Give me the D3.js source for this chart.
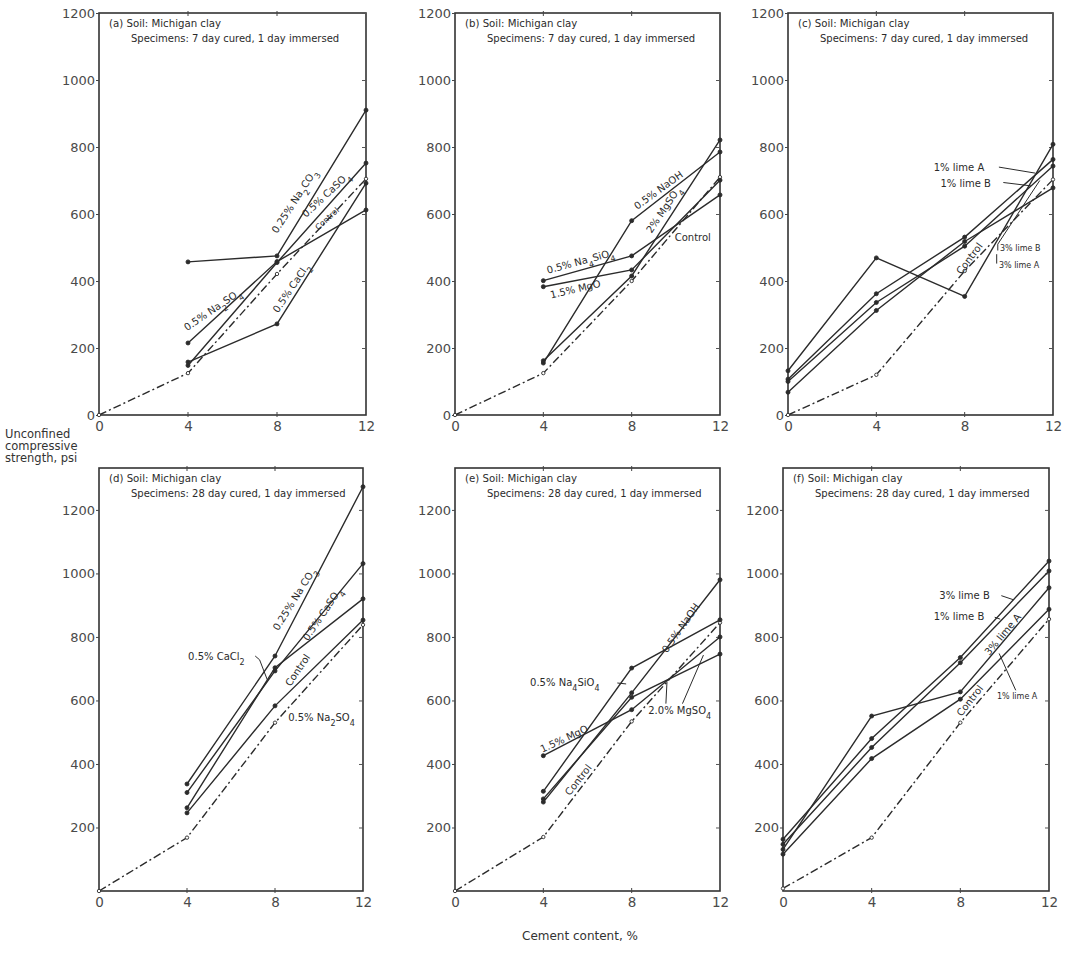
<!DOCTYPE html>
<html>
<head>
<meta charset="utf-8">
<script src="https://cdn.jsdelivr.net/npm/d3@7"></script>
<style>
body { margin: 0; background: #fff; }
svg { display: block; font-family: "DejaVu Sans", sans-serif; }
</style>
</head>
<body>
<svg id="chart" width="1066" height="974"></svg>
<script>
// cement content, %
const cement = [0, 4, 8, 12];
const yTicksTop = [0, 200, 400, 600, 800, 1000, 1200];
const yTicksBottom = [200, 400, 600, 800, 1000, 1200];

// (a) 7 day cured - sodium / calcium salts
const aControl = [0, 125, 421, 705];
const aNa2CO3 = [null, 457, 475, 910];
const aCaSO4 = [null, 148, 455, 752];
const aCaCl2 = [null, 158, 272, 692];
const aNa2SO4 = [null, 215, 458, 612];

// (b) 7 day cured - NaOH, MgSO4, Na4SiO4, MgO
const bControl = [0, 125, 400, 710];
const bNaOH = [null, 155, 580, 785];
const bMgSO4 = [null, 162, 415, 821];
const bNa4SiO4 = [null, 401, 475, 657];
const bMgO = [null, 383, 433, 701];

// (c) 7 day cured - lime
const cControl = [0, 120, 430, 703];
const c1LimeA = [107, 362, 531, 763];
const c1LimeB = [100, 336, 504, 743];
const c3LimeB = [68, 312, 518, 678];
const c3LimeA = [132, 469, 354, 808];

// (d) 28 day cured - sodium / calcium salts
const dControl = [0, 168, 530, 838];
const dNa2CO3 = [null, 337, 740, 1273];
const dCaSO4 = [null, 310, 693, 1031];
const dCaCl2 = [null, 262, 703, 920];
const dNa2SO4 = [null, 246, 583, 853];

// (e) 28 day cured - NaOH, MgSO4, Na4SiO4, MgO
const eControl = [0, 170, 534, 845];
const eNaOH = [null, 280, 624, 980];
const eNa4SiO4 = [null, 314, 702, 854];
const eMgO = [null, 426, 571, 800];
const eMgSO4 = [null, 290, 610, 746];

// (f) 28 day cured - lime
const fControl = [8, 168, 530, 856];
const f3LimeB = [163, 480, 735, 1039];
const f1LimeB = [147, 452, 719, 1008];
const f3LimeA = [131, 551, 627, 955];
const f1LimeA = [116, 417, 604, 887];

const sub7 = "Specimens: 7 day cured, 1 day immersed";
const sub28 = "Specimens: 28 day cured, 1 day immersed";

// where each panel box sits on the page
const rowGeom = [
  { top: 13, bottom: 415, ymax: 1200, ticks: yTicksTop },
  { top: 468, bottom: 891, ymax: 1332, ticks: yTicksBottom }
];
const colGeom = [
  [[99, 366], [455, 720], [788, 1053]],
  [[99, 363], [455, 720], [783, 1049]]
];

const panels = [
  { row: 0, col: 0, tag: "(a)", sub: sub7,
    series: [aControl, aNa2CO3, aCaSO4, aCaCl2, aNa2SO4],
    labels: [
      { t: "0.25% Na_2CO_3", x: 8.0, y: 540, a: -57 },
      { t: "0.5% CaSO_4", x: 9.3, y: 588, a: -43 },
      { t: "Control", x: 9.85, y: 551, a: -42, fs: 8 },
      { t: "0.5% Na_2SO_4", x: 3.95, y: 250, a: -34 },
      { t: "0.5% CaCl_2", x: 8.05, y: 303, a: -56 }
    ], leaders: [] },
  { row: 0, col: 1, tag: "(b)", sub: sub7,
    series: [bControl, bNaOH, bMgSO4, bNa4SiO4, bMgO],
    labels: [
      { t: "0.5% NaOH", x: 8.25, y: 612, a: -36 },
      { t: "2% MgSO_4", x: 8.9, y: 541, a: -56 },
      { t: "Control", x: 9.95, y: 519, a: 0 },
      { t: "0.5% Na_4SiO_4", x: 4.2, y: 422, a: -15 },
      { t: "1.5% MgO", x: 4.35, y: 348, a: -13 }
    ], leaders: [] },
  { row: 0, col: 2, tag: "(c)", sub: sub7,
    series: [cControl, c1LimeA, c1LimeB, c3LimeB, c3LimeA],
    labels: [
      { t: "1% lime A", x: 6.6, y: 728, a: 0 },
      { t: "1% lime B", x: 6.9, y: 682, a: 0 },
      { t: "3% lime B", x: 9.6, y: 491, a: 0, fs: 8 },
      { t: "3% lime A", x: 9.55, y: 438, a: 0, fs: 8 },
      { t: "Control", x: 7.85, y: 418, a: -53 }
    ],
    leaders: [
      [[9.55, 740], [11.2, 722]],
      [[9.75, 694], [11.0, 684]],
      [[9.5, 491], [9.5, 510], [11.4, 700]],
      [[9.45, 452], [9.45, 480]]
    ] },
  { row: 1, col: 0, tag: "(d)", sub: sub28,
    series: [dControl, dNa2CO3, dCaSO4, dCaCl2, dNa2SO4],
    labels: [
      { t: "0.25% Na CO_3", x: 8.15, y: 818, a: -58 },
      { t: "0.5% CaSO_4", x: 9.5, y: 786, a: -56 },
      { t: "0.5% CaCl_2", x: 4.05, y: 727, a: 0 },
      { t: "Control", x: 8.7, y: 642, a: -56 },
      { t: "0.5% Na_2SO_4", x: 8.6, y: 536, a: 0 }
    ],
    leaders: [
      [[7.1, 740], [7.3, 728], [7.65, 665]]
    ] },
  { row: 1, col: 1, tag: "(e)", sub: sub28,
    series: [eControl, eNaOH, eNa4SiO4, eMgO, eMgSO4],
    labels: [
      { t: "0.5% NaOH", x: 9.6, y: 748, a: -55 },
      { t: "0.5% Na_4SiO_4", x: 3.4, y: 646, a: 0 },
      { t: "2.0% MgSO_4", x: 8.75, y: 558, a: 0 },
      { t: "1.5% MgO", x: 3.95, y: 435, a: -25 },
      { t: "Control", x: 5.2, y: 298, a: -52 }
    ],
    leaders: [
      [[7.35, 655], [7.75, 652]],
      [[10.3, 590], [11.25, 743]],
      [[9.55, 590], [9.6, 660]]
    ] },
  { row: 1, col: 2, tag: "(f)", sub: sub28,
    series: [fControl, f3LimeB, f1LimeB, f3LimeA, f1LimeA],
    labels: [
      { t: "3% lime B", x: 7.05, y: 920, a: 0 },
      { t: "1% lime B", x: 6.8, y: 852, a: 0 },
      { t: "3% lime A", x: 9.3, y: 740, a: -50 },
      { t: "1% lime A", x: 9.65, y: 606, a: 0, fs: 8 },
      { t: "Control", x: 8.05, y: 548, a: -52 }
    ],
    leaders: [
      [[9.85, 930], [10.4, 917]],
      [[9.55, 862], [9.8, 856]],
      [[10.5, 632], [9.75, 748]]
    ] }
];

const svg = d3.select("#chart");
const ink = "#2b2b2b";

// label text with _n subscripts
function writeLabel(sel, str, fs) {
  const parts = str.split(/(_\d)/);
  parts.forEach(p => {
    if (!p) return;
    if (p[0] === "_") {
      sel.append("tspan").attr("baseline-shift", "sub").attr("font-size", fs * 0.8).text(p.slice(1));
    } else {
      sel.append("tspan").text(p);
    }
  });
}

panels.forEach(p => {
  const rg = rowGeom[p.row];
  const [x0, x1] = colGeom[p.row][p.col];
  const x = d3.scaleLinear().domain([0, 12]).range([x0, x1]);
  const y = d3.scaleLinear().domain([0, rg.ymax]).range([rg.bottom, rg.top]);
  const g = svg.append("g");

  // box
  g.append("rect")
    .attr("x", x0).attr("y", rg.top)
    .attr("width", x1 - x0).attr("height", rg.bottom - rg.top)
    .attr("fill", "none").attr("stroke", "#333").attr("stroke-width", 1.6);

  // left axis
  const left = d3.axisLeft(y).tickValues(rg.ticks).tickSize(3).tickPadding(0).tickFormat(d3.format("d"));
  const la = g.append("g").attr("transform", `translate(${x0},0)`).call(left);
  la.select(".domain").remove();
  la.selectAll("line").attr("stroke", "#444");
  la.selectAll("text").attr("font-size", 13).attr("fill", "#4a4a4a")
    .attr("font-family", "DejaVu Sans, sans-serif").attr("dx", -1);

  // right inner ticks
  const right = d3.axisLeft(y).tickValues(yTicksBottom).tickSize(4).tickFormat("");
  const ra = g.append("g").attr("transform", `translate(${x1},0)`).call(right);
  ra.select(".domain").remove();
  ra.selectAll("line").attr("stroke", "#555");

  // bottom axis
  const bottom = d3.axisBottom(x).tickValues(cement).tickSize(0).tickPadding(6);
  const ba = g.append("g").attr("transform", `translate(0,${rg.bottom})`).call(bottom);
  ba.select(".domain").remove();
  ba.selectAll("text").attr("font-size", 13.5).attr("fill", "#4a4a4a")
    .attr("font-family", "DejaVu Sans, sans-serif");

  // small top / bottom ticks at 4 and 8
  [4, 8].forEach(v => {
    g.append("line").attr("x1", x(v)).attr("x2", x(v))
      .attr("y1", rg.top - 2).attr("y2", rg.top + 3).attr("stroke", "#444");
    g.append("line").attr("x1", x(v)).attr("x2", x(v))
      .attr("y1", rg.bottom - 3).attr("y2", rg.bottom + 2).attr("stroke", "#444");
  });

  // panel caption
  g.append("text").attr("x", x0 + 10).attr("y", rg.top + 14)
    .attr("font-size", 10.2).attr("fill", ink)
    .text(`${p.tag} Soil: Michigan clay`);
  g.append("text").attr("x", x0 + 32).attr("y", rg.top + 29)
    .attr("font-size", 10).attr("fill", ink)
    .text(p.sub);

  // series
  const line = d3.line()
    .defined(d => d.v !== null)
    .x(d => x(d.c)).y(d => y(d.v));
  p.series.forEach((vals, i) => {
    const pts = cement.map((c, k) => ({ c: c, v: vals[k] }));
    const isControl = i === 0;
    g.append("path").datum(pts)
      .attr("d", line)
      .attr("fill", "none")
      .attr("stroke", ink)
      .attr("stroke-width", 1.4)
      .attr("stroke-dasharray", isControl ? "8,3,2,3" : null);
    g.selectAll(null).data(pts.filter(d => d.v !== null)).enter()
      .append("circle")
      .attr("cx", d => x(d.c)).attr("cy", d => y(d.v))
      .attr("r", isControl ? 1.7 : 2)
      .attr("fill", isControl ? "#fff" : ink)
      .attr("stroke", ink).attr("stroke-width", 0.9);
  });

  // leader lines
  p.leaders.forEach(l => {
    g.append("path")
      .attr("d", d3.line().x(d => x(d[0])).y(d => y(d[1]))(l))
      .attr("fill", "none").attr("stroke", ink).attr("stroke-width", 1);
  });

  // series labels
  p.labels.forEach(l => {
    const fs = l.fs || 10;
    const t = g.append("text")
      .attr("transform", `translate(${x(l.x)},${y(l.y)}) rotate(${l.a})`)
      .attr("font-size", fs).attr("fill", ink);
    writeLabel(t, l.t, fs);
  });
});

// shared axis titles
const yTitle = svg.append("text").attr("x", 5).attr("y", 438)
  .attr("font-size", 11.5).attr("fill", "#333");
["Unconfined", "compressive", "strength, psi"].forEach((s, i) => {
  yTitle.append("tspan").attr("x", 5).attr("dy", i === 0 ? 0 : 12).text(s);
});

svg.append("text").attr("x", 580).attr("y", 940)
  .attr("text-anchor", "middle").attr("font-size", 12).attr("fill", "#333")
  .text("Cement content, %");
</script>
</body>
</html>
